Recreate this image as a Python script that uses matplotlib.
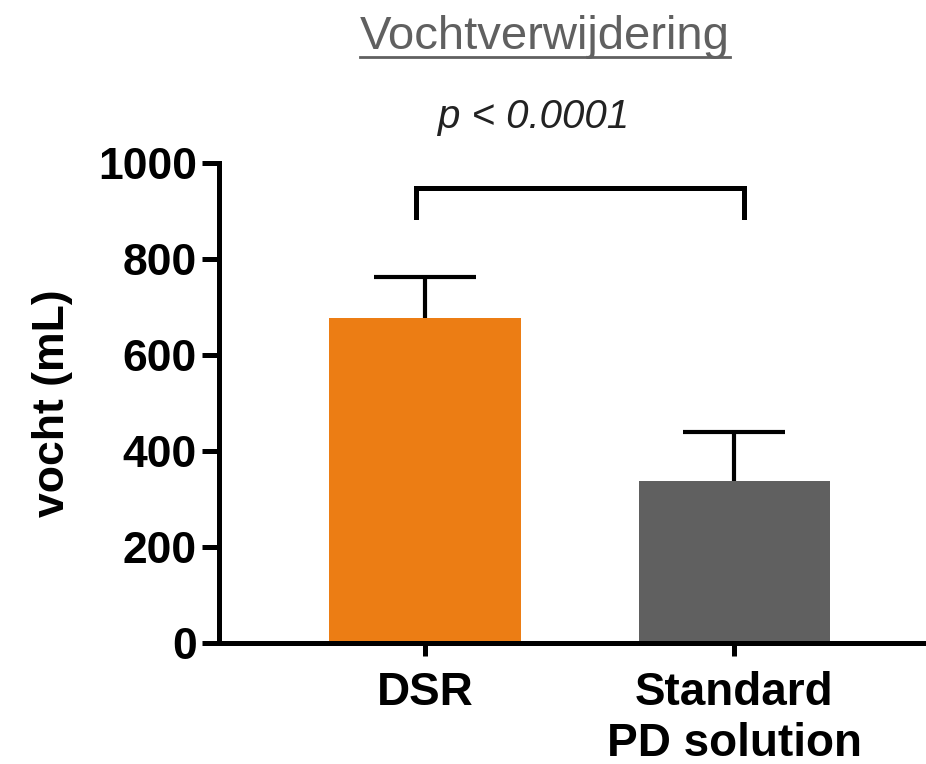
import matplotlib
matplotlib.use("Agg")
import matplotlib.pyplot as plt
from matplotlib.lines import Line2D

# Fluid removal per solution
categories = ["DSR", "Standard\nPD solution"]
means = [677, 337]
errors = [86, 103]
colors = ["#EC7D14", "#606060"]
yticks = [0, 200, 400, 600, 800, 1000]
bracket_top = 948
bracket_foot = 887

plt.rcParams["font.family"] = ["Liberation Sans", "DejaVu Sans"]

fig = plt.figure(figsize=(9.26, 7.64), dpi=100)
ax = fig.add_axes([219 / 926, 121 / 764, 1 - 219 / 926, 480 / 764])

x = [0, 1]
ax.bar(x, means, width=0.62, color=colors, zorder=2)
# upper-only error bars
cap_half = 0.165
for xi, m, e in zip(x, means, errors):
    ax.vlines(xi, m, m + e, color="black", lw=3, zorder=3)
    ax.hlines(m + e, xi - cap_half, xi + cap_half, color="black", lw=3, zorder=3)

ax.set_xlim(-0.667, 1.62)
ax.set_ylim(0, 1000)
ax.set_yticks(yticks)
ax.set_xticks(x)
ax.set_xticklabels(categories, fontsize=33, fontweight="bold", linespacing=1.2)
ax.set_yticklabels([str(t) for t in yticks], fontsize=32, fontweight="bold")
ax.tick_params(axis="y", length=12, width=3.6, pad=4)
ax.tick_params(axis="x", length=9, width=3.6, pad=11)

for s in ["top", "right"]:
    ax.spines[s].set_visible(False)
for s in ["left", "bottom"]:
    ax.spines[s].set_linewidth(3.6)

ax.set_ylabel("vocht (mL)", fontsize=32, fontweight="bold", labelpad=18)

# significance bracket
ax.plot([-0.03, -0.03, 1.03, 1.03],
        [bracket_foot, bracket_top, bracket_top, bracket_foot],
        color="black", lw=3.6, clip_on=False, solid_joinstyle="miter")
fig.text(534 / 926, 1 - 128 / 764, "p < 0.0001", ha="center", va="baseline",
         fontsize=29, style="italic", color="#222222")

# underlined title
title = fig.text(545 / 926, 1 - 49 / 764, "Vochtverwijdering", ha="center",
                 va="baseline", fontsize=34, color="#606060")
fig.canvas.draw()
bb = title.get_window_extent()
uy = 1 - 57 / 764
fig.add_artist(Line2D([bb.x0 / 926, bb.x1 / 926], [uy, uy],
                      transform=fig.transFigure, color="#606060", lw=2))

fig.savefig("out.png", dpi=100)
